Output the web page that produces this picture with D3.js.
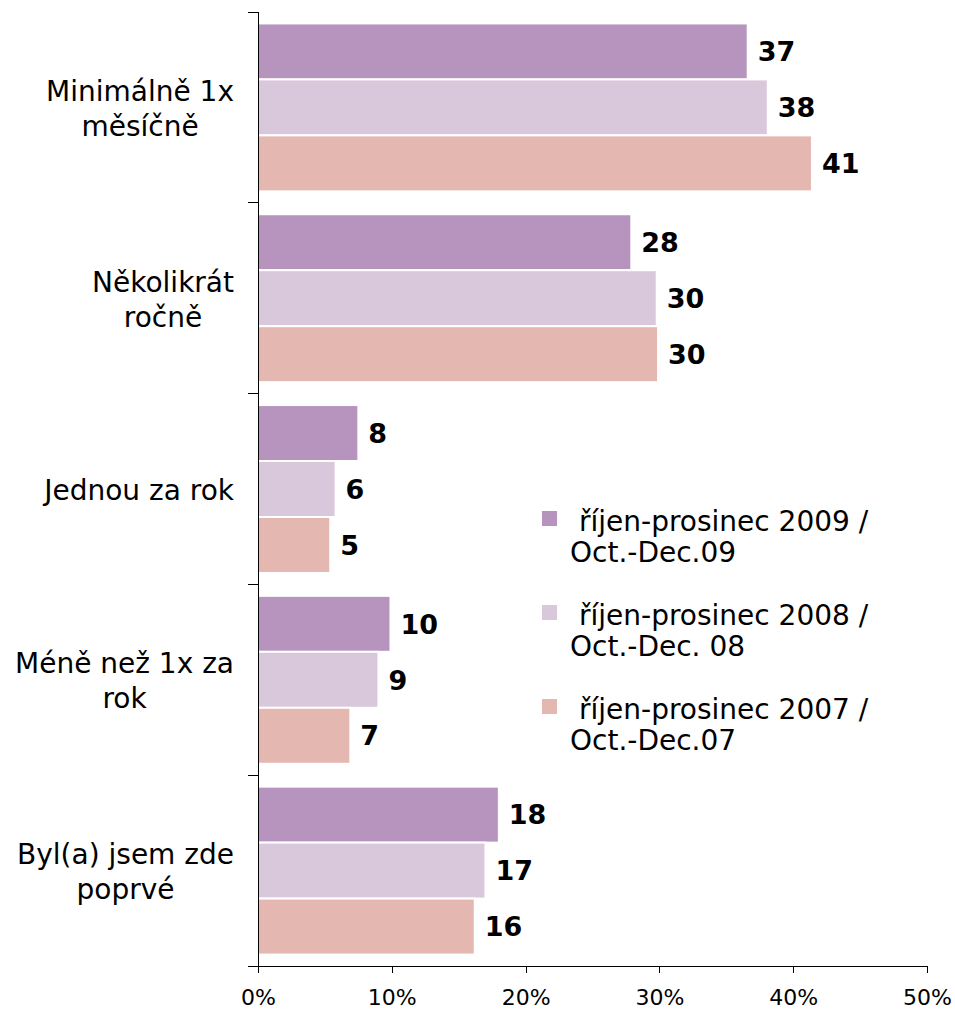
<!DOCTYPE html>
<html>
<head>
<meta charset="utf-8">
<script src="https://cdn.jsdelivr.net/npm/d3@7"></script>
<style>
  body { margin: 0; background: #fff; }
  text { font-family: "DejaVu Sans", Verdana, sans-serif; fill: #000; }
</style>
</head>
<body>
<svg id="chart"></svg>
<script>
// categories (top to bottom), each split in lines as on the picture
var categoryLines = [
  ["Minimálně 1x", "měsíčně"],
  ["Několikrát", "ročně"],
  ["Jednou za rok"],
  ["Méně než 1x za", "rok"],
  ["Byl(a) jsem zde", "poprvé"]
];
var categories = categoryLines.map(function(l) { return l.join(" "); });

var seriesKeys = ["2009", "2008", "2007"];
var seriesLegend = [
  ["říjen-prosinec 2009 /", "Oct.-Dec.09"],
  ["říjen-prosinec 2008 /", "Oct.-Dec. 08"],
  ["říjen-prosinec 2007 /", "Oct.-Dec.07"]
];
var seriesColors = ["#b794bd", "#d9c7db", "#e5b7b1"];

// percent values per series, in category order
var values2009 = [36.6, 27.9, 7.5, 9.9, 18.0];
var values2008 = [38.1, 29.8, 5.8, 9.0, 17.0];
var values2007 = [41.4, 29.9, 5.4, 6.9, 16.2];
var seriesValues = [values2009, values2008, values2007];

var xTicks = [0, 10, 20, 30, 40, 50];

var W = 955, H = 1009;

var svg = d3.select("#chart")
    .attr("width", W)
    .attr("height", H);

var x = d3.scaleLinear()
    .domain([0, 50])
    .range([258, 927]);

var y0 = d3.scaleBand()
    .domain(categories)
    .range([12, 966])
    .paddingInner(0.12)
    .paddingOuter(0.06);

var y1 = d3.scaleBand()
    .domain(seriesKeys)
    .range([0, y0.bandwidth()]);

var data = [];
categories.forEach(function(c, i) {
  seriesKeys.forEach(function(k, j) {
    data.push({cat: c, key: k, idx: j, value: seriesValues[j][i]});
  });
});

// bars
svg.append("g")
  .selectAll("rect")
  .data(data)
  .enter()
  .append("rect")
    .attr("x", x(0))
    .attr("y", function(d) { return y0(d.cat) + y1(d.key); })
    .attr("width", function(d) { return x(d.value) - x(0); })
    .attr("height", y1.bandwidth())
    .attr("fill", function(d) { return seriesColors[d.idx]; })
    .attr("stroke", "#fff")
    .attr("stroke-width", 2);

// value labels
svg.append("g")
  .selectAll("text")
  .data(data)
  .enter()
  .append("text")
    .attr("x", function(d) { return x(d.value) + 10; })
    .attr("y", function(d) { return y0(d.cat) + y1(d.key) + y1.bandwidth() / 2; })
    .attr("dy", "0.36em")
    .style("font-size", "27px")
    .style("font-weight", "bold")
    .text(function(d) { return Math.round(d.value); });

// x axis
var xAxis = svg.append("g")
    .attr("transform", "translate(0,966)")
    .call(d3.axisBottom(x)
      .tickValues(xTicks)
      .tickSize(7)
      .tickSizeOuter(0)
      .tickFormat(function(d) { return d + "%"; }));
xAxis.attr("font-size", null).attr("font-family", null);
xAxis.select(".domain").attr("stroke", "#000").attr("shape-rendering", "crispEdges");
xAxis.selectAll(".tick line").attr("stroke", "#000").attr("shape-rendering", "crispEdges");
xAxis.selectAll(".tick text")
    .attr("y", 39)
    .attr("dy", null)
    .style("font-size", "22px");

// y axis line with ticks at category boundaries
var bounds = d3.range(categories.length + 1).map(function(i) {
  return y0.range()[0] + i * y0.step();
});
svg.append("line")
    .attr("x1", x(0)).attr("x2", x(0))
    .attr("y1", bounds[0]).attr("y2", bounds[bounds.length - 1])
    .attr("stroke", "#000")
    .attr("shape-rendering", "crispEdges");
svg.append("g")
  .selectAll("line")
  .data(bounds)
  .enter()
  .append("line")
    .attr("x1", x(0) - 10).attr("x2", x(0))
    .attr("y1", function(d) { return d; })
    .attr("y2", function(d) { return d; })
    .attr("stroke", "#000")
    .attr("shape-rendering", "crispEdges");

// category labels: block right aligned, lines centred inside it
var lineH = 35;
categoryLines.forEach(function(lines, i) {
  var cy = y0(categories[i]) + y0.bandwidth() / 2;
  var g = svg.append("g");
  var texts = g.selectAll("text")
    .data(lines)
    .enter()
    .append("text")
      .attr("y", function(d, k) { return cy + 11 + (k - (lines.length - 1) / 2) * lineH; })
      .attr("text-anchor", "middle")
      .style("font-size", "28px")
      .text(function(d) { return d; });
  var maxW = 0;
  texts.each(function() { maxW = Math.max(maxW, this.getComputedTextLength()); });
  texts.attr("x", 234 - maxW / 2);
});

// legend
var legend = svg.append("g")
    .attr("transform", "translate(542,0)");
seriesLegend.forEach(function(lines, i) {
  var top = 531 + i * 94;
  legend.append("rect")
      .attr("x", 0)
      .attr("y", top - 20)
      .attr("width", 15)
      .attr("height", 15)
      .attr("fill", seriesColors[i]);
  lines.forEach(function(l, k) {
    legend.append("text")
        .attr("x", k === 0 ? 37 : 28)
        .attr("y", top + k * 31)
        .style("font-size", "28px")
        .text(l);
  });
});
</script>
</body>
</html>
